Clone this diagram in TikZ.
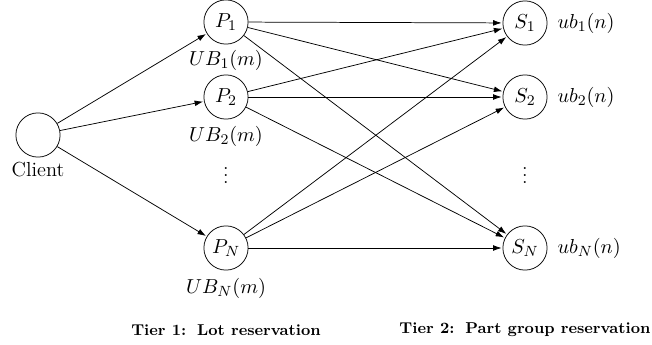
\documentclass[tikz,border=0pt]{standalone}
\usetikzlibrary{arrows.meta}

\begin{document}
\begin{tikzpicture}[x=0.019cm,y=-0.019cm,>={Latex[length=1.6mm,width=1.1mm]},shorten >=0.5pt,thin,
  main node/.style={circle,draw,minimum size=0.84cm,inner sep=0pt,font=\fontsize{11}{13}\selectfont},
  tag/.style={font=\fontsize{11}{13}\selectfont},
  tier/.style={font=\fontsize{8.5}{10}\selectfont\bfseries}]

            \useasboundingbox (0,0) rectangle (652,345);

            \node[main node] (c) at (38,135) {};
            \node[main node] (p1) at (226,22) {$P_1$};
            \node[main node] (p2) at (226,97) {$P_2$};
            \node[main node] (pn) at (226,248) {$P_N$};
            \node[main node] (s1) at (525,23) {$S_1$};
            \node[main node] (s2) at (525,97) {$S_2$};
            \node[main node] (sn) at (525,248) {$S_N$};

            \node[tag] (cl) at (38,170) {Client};
            \node[tag] (ub1) at (226,60) {$UB_1(m)$};
            \node[tag] (ub2) at (226,136) {$UB_2(m)$};
            \node[tag] (ubn) at (226,288) {$UB_N(m)$};
            \node[tag, anchor=west] (lb1) at (551,23) {$ub_1(n)$};
            \node[tag, anchor=west] (lb2) at (551,97) {$ub_2(n)$};
            \node[tag, anchor=west] (lbn) at (551,248) {$ub_N(n)$};
            \node[tag, inner sep=0pt] (dl) at (226,170) {$\vdots$};
            \node[tag, inner sep=0pt] (dr) at (525,170) {$\vdots$};

            \node[tier] (t1) at (226,330) {Tier 1:\, Lot reservation};
            \node[tier] (t2) at (525,330) {Tier 2:\, Part group reservation};

            \draw[->] (c) to (p1);
            \draw[->] (c) to (p2);
            \draw[->] (c) to (pn);

            \foreach \a in {p1,p2,pn}
              \foreach \b in {s1,s2,sn}
                \draw[->] (\a) to (\b);

        \end{tikzpicture}
\end{document}
